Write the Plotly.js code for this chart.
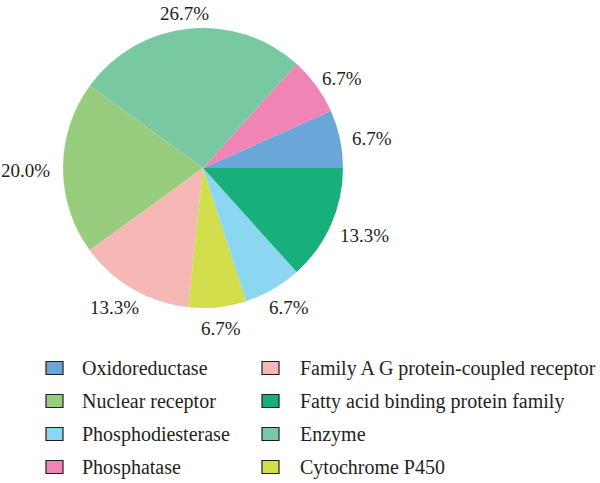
<!DOCTYPE html>
<html><head><meta charset="utf-8">
<script src="https://cdn.plot.ly/plotly-3.0.1.min.js"></script>
<style>html,body{margin:0;padding:0;background:#fff}#chart{width:600px;height:483px}</style>
</head><body><div id="chart"></div>
<script>
// Slice order (counterclockwise from 3 o'clock)
const labels = ["Oxidoreductase","Phosphatase","Enzyme","Nuclear receptor","Family A G protein-coupled receptor","Cytochrome P450","Phosphodiesterase","Fatty acid binding protein family"];
const values = [1,1,4,3,2,1,1,2];
const colors = ["#6aa6d8","#ef84b5","#78c9a1","#98cd7d","#f5b8b4","#d2de4c","#8bd6f1","#18b07a"];
// Legend layout order: column 1 then column 2
const legendCol1 = ["Oxidoreductase","Nuclear receptor","Phosphodiesterase","Phosphatase"];
const legendCol2 = ["Family A G protein-coupled receptor","Fatty acid binding protein family","Enzyme","Cytochrome P450"];

const W = 600, H = 483;
const fam = "Liberation Serif, DejaVu Serif, serif";
const pctFont = {family: fam, size: 19, color: "#231f20"};
const legFont = {family: fam, size: 20, color: "#231f20"};

// pie box in pixels
const pieL = 63, pieR = 343, pieT = 28, pieB = 308;
const cx = (pieL + pieR) / 2, cy = (pieT + pieB) / 2, rad = (pieR - pieL) / 2;

const total = values.reduce((a, b) => a + b, 0);
const trace = {
  type: "pie", labels: labels, values: values, sort: false,
  direction: "counterclockwise", rotation: 90 - 360 * values[0] / total,
  marker: {colors: colors, line: {width: 0}},
  textinfo: "none", showlegend: false, hoverinfo: "label+percent",
  domain: {x: [pieL/W, pieR/W], y: [1 - pieB/H, 1 - pieT/H]}
};

const shapes = [], annotations = [];

// percentage labels placed radially outside each slice
let cum = 0;
values.forEach(v => {
  const mid = (cum + v / 2) / total * 2 * Math.PI;
  cum += v;
  const txt = (100 * v / total).toFixed(1) + "%";
  const w = txt.length * 9.7, h = 10, R = rad + 13;
  const c = Math.cos(mid), s = Math.sin(mid);
  const x = cx + R * c + (w / 2) * c;
  const y = cy - R * s - (h / 2) * s + 3;
  annotations.push({xref: "paper", yref: "paper", x: x / W, y: 1 - y / H,
    xanchor: "center", yanchor: "middle", showarrow: false, text: txt, font: pctFont});
});

const rowsY = [368, 401, 434, 467];
function addLegend(col, boxX, textX) {
  col.forEach((lab, i) => {
    const c = colors[labels.indexOf(lab)];
    const y = rowsY[i];
    shapes.push({type: "rect", xref: "paper", yref: "paper",
      x0: boxX/W, x1: (boxX+17)/W, y0: 1-(y+6.5)/H, y1: 1-(y-6.5)/H,
      fillcolor: c, line: {color: "#231f20", width: 1.2}});
    annotations.push({xref: "paper", yref: "paper", x: textX/W, y: 1-y/H,
      xanchor: "left", yanchor: "middle", showarrow: false, text: lab, font: legFont});
  });
}
addLegend(legendCol1, 46, 80);
addLegend(legendCol2, 262, 298);

Plotly.newPlot("chart", [trace], {
  width: W, height: H, margin: {l:0, r:0, t:0, b:0},
  paper_bgcolor: "#fff", showlegend: false,
  shapes: shapes, annotations: annotations, font: legFont
}, {displayModeBar: false, staticPlot: true});
</script></body></html>
